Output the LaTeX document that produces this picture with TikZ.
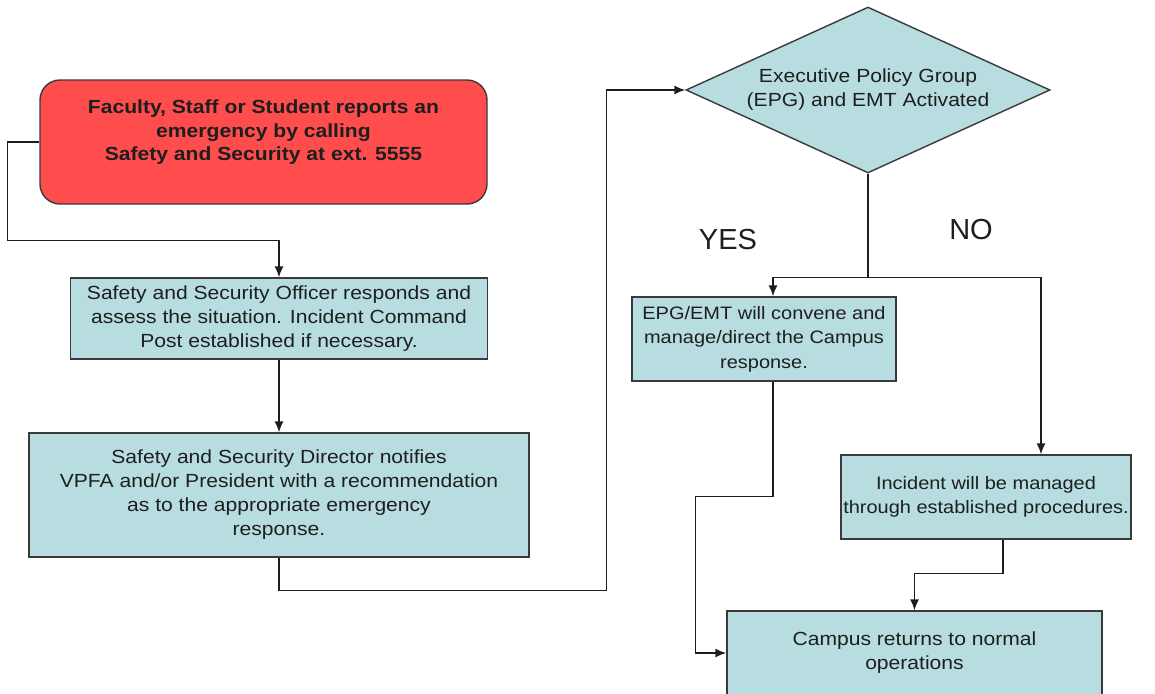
\documentclass[tikz,border=0pt]{standalone}
\usepackage{fontspec}
\setmainfont{Liberation Sans}[FakeStretch=1.11]
\newfontfamily\lblfont{Liberation Sans}
\usetikzlibrary{shapes.geometric,arrows.meta}
\definecolor{boxfill}{HTML}{B8DDE1}
\definecolor{redfill}{HTML}{FF4D4D}
\definecolor{edge}{HTML}{3A3A3A}
\definecolor{ink}{HTML}{1E1E1E}
\tikzset{
  box/.style={rectangle, draw=edge, line width=1.4pt, fill=boxfill, align=center,
    font=\fontsize{19}{24}\selectfont, text=ink, inner sep=0pt},
  smallbox/.style={box, font=\fontsize{18}{24.5}\selectfont},
  redbox/.style={rectangle, rounded corners=20pt, draw=edge, line width=1.4pt, fill=redfill,
    align=center, font=\fontsize{19}{23.5}\selectfont\bfseries, text=ink, inner sep=0pt},
  decision/.style={diamond, shape aspect=2.19, draw=edge, line width=1.4pt, fill=boxfill, align=center,
    font=\fontsize{19}{24}\selectfont, text=ink, inner sep=0pt},
  conn/.style={draw=ink, line width=1.4pt},
  arr/.style={conn, -{Latex[length=11pt,width=9pt]}},
  lbl/.style={font=\lblfont\fontsize{29}{30}\selectfont, text=ink, inner sep=0pt}
}
\begin{document}
\begin{tikzpicture}[x=1pt,y=-1pt]
\useasboundingbox (0,0) rectangle (1155,693);
\node[redbox, minimum width=447, minimum height=124] (report) at (263.5,142)
  {Faculty, Staff or Student reports an\\emergency by calling\\Safety and Security at ext. 5555\\ \mbox{}};
\node[box, minimum width=417, minimum height=81] (officer) at (279,318.5)
  {Safety and Security Officer responds and\\assess the situation. Incident Command\\Post established if necessary.};
\node[box, minimum width=500, minimum height=124] (director) at (279,495)
  {Safety and Security Director notifies\\VPFA and/or President with a recommendation\\as to the appropriate emergency\\response.};
\node[decision, minimum width=364, minimum height=166] (epg) at (868,90)
  {Executive Policy Group\\(EPG) and EMT Activated};
\node[smallbox, minimum width=264, minimum height=84] (convene) at (764,339)
  {EPG/EMT will convene and\\manage/direct the Campus\\response.};
\node[smallbox, minimum width=290, minimum height=84] (incident) at (986,497)
  {Incident will be managed\\through established procedures.};
\node[box, minimum width=375, minimum height=84] (normal) at (914.5,653)
  {Campus returns to normal\\operations};
\node[lbl] (yes) at (728,240) {YES};
\node[lbl] (no) at (971,230) {NO};

\draw[arr] (report.west) -- ++(-32,0) |- ([yshift=37pt]officer.north) -- (officer.north);
\draw[arr] (officer.south) -- (director.north);
\draw[arr] (director.south) -- ++(0,33) -| ([xshift=-79pt]epg.west) -- (epg.west);
\draw[conn] (epg.south) -- ++(0,104) coordinate (split);
\draw[arr] (split) -| ([xshift=9pt]convene.north);
\draw[arr] (split) -| ([xshift=55pt]incident.north);
\draw[arr] ([xshift=9pt]convene.south) -- ++(0,115) -| ([xshift=-31pt]normal.west) -- (normal.west);
\draw[arr] ([xshift=17pt]incident.south) -- ++(0,34) -| (normal.north);
\end{tikzpicture}
\end{document}
